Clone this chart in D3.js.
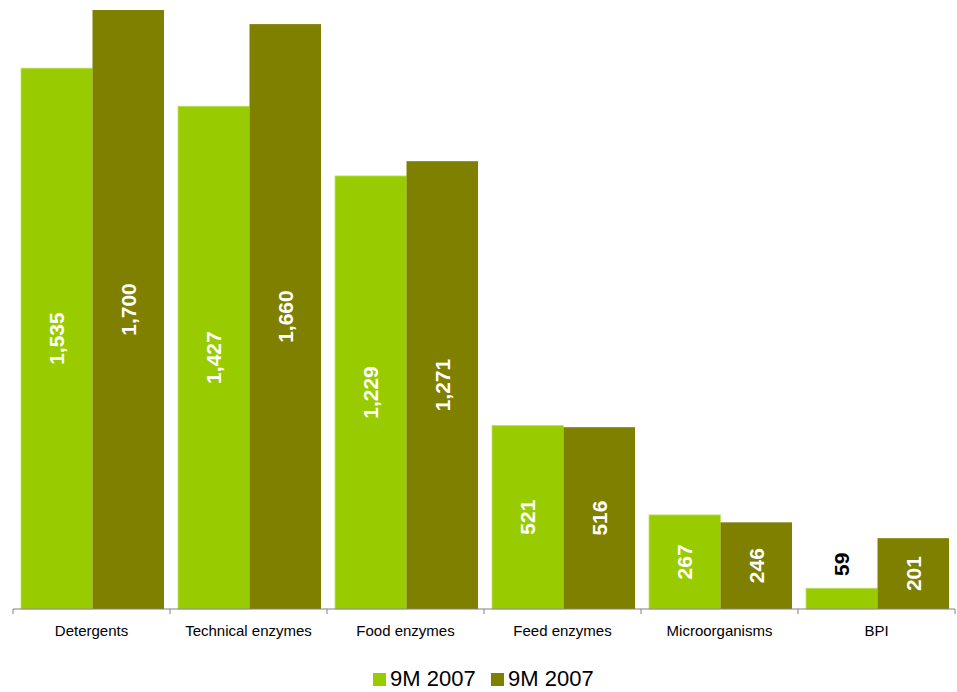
<!DOCTYPE html>
<html>
<head>
<meta charset="utf-8">
<script src="https://cdn.jsdelivr.net/npm/d3@7"></script>
<style>
  body { margin: 0; background: #fff; }
  svg { display: block; font-family: "Liberation Sans", Arial, sans-serif; }
</style>
</head>
<body>
<div id="chart"></div>
<script>
// Data
const categories = ["Detergents", "Technical enzymes", "Food enzymes", "Feed enzymes", "Microorganisms", "BPI"];
const seriesNames = ["9M 2007", "9M 2007"];
const seriesA = [1535, 1427, 1229, 521, 267, 59];
const seriesB = [1700, 1660, 1271, 516, 246, 201];
const colors = ["#99cc00", "#808000"];

const width = 957, height = 692;
const margin = { top: 10, right: 2, bottom: 83, left: 13 };

const svg = d3.select("#chart").append("svg")
    .attr("width", width)
    .attr("height", height);

const x = d3.scaleBand()
    .domain(categories)
    .range([margin.left, width - margin.right])
    .paddingInner(0)
    .paddingOuter(0);

const sub = d3.scaleBand()
    .domain([0, 1])
    .range([8, x.bandwidth() - 6]);

const y = d3.scaleLinear()
    .domain([0, 1700])
    .range([height - margin.bottom, margin.top]);

const rows = categories.map((c, i) => ({ cat: c, vals: [seriesA[i], seriesB[i]] }));

// Bars
const groups = svg.append("g").selectAll("g")
    .data(rows)
    .join("g")
    .attr("transform", d => `translate(${x(d.cat)},0)`);

groups.selectAll("rect")
    .data(d => d.vals.map((v, k) => ({ v, k })))
    .join("rect")
    .attr("x", d => sub(d.k))
    .attr("y", d => y(d.v))
    .attr("width", sub.bandwidth())
    .attr("height", d => y(0) - y(d.v))
    .attr("fill", d => colors[d.k])
    .attr("stroke", d => d.k === 0 ? "#c2e066" : "none")
    .attr("stroke-width", 0.8);

// Value labels (rotated)
const labelSize = 21;
groups.selectAll("text.val")
    .data(d => d.vals.map((v, k) => ({ v, k })))
    .join("text")
    .attr("class", "val")
    .attr("transform", d => {
        const cx = sub(d.k) + sub.bandwidth() / 2;
        const h = y(0) - y(d.v);
        const inside = h > 40;
        const cy = inside ? (y(d.v) + y(0)) / 2 : y(d.v) - 24;
        return `translate(${cx + labelSize * 0.36},${cy}) rotate(-90)`;
    })
    .attr("text-anchor", "middle")
    .attr("font-size", labelSize)
    .attr("font-weight", "bold")
    .attr("fill", d => (y(0) - y(d.v)) > 40 ? "#fff" : "#000")
    .text(d => d3.format(",")(d.v));

// Axis
const axis = svg.append("g");
axis.append("line")
    .attr("x1", margin.left).attr("x2", width - margin.right)
    .attr("y1", y(0)).attr("y2", y(0))
    .attr("stroke", "#808080");
const ticks = categories.map(c => x(c)).concat([x.range()[1]]);
axis.selectAll("line.tick")
    .data(ticks)
    .join("line")
    .attr("class", "tick")
    .attr("x1", d => d).attr("x2", d => d)
    .attr("y1", y(0)).attr("y2", y(0) + 5)
    .attr("stroke", "#808080");
axis.selectAll("text")
    .data(categories)
    .join("text")
    .attr("x", d => x(d) + x.bandwidth() / 2)
    .attr("y", y(0) + 27)
    .attr("text-anchor", "middle")
    .attr("font-size", 15)
    .attr("fill", "#000")
    .text(d => d);

// Legend
const legend = svg.append("g").attr("transform", "translate(373,673)");
const items = legend.selectAll("g")
    .data(seriesNames)
    .join("g")
    .attr("transform", (d, i) => `translate(${i * 118},0)`);
items.append("rect")
    .attr("width", 13).attr("height", 13)
    .attr("fill", (d, i) => colors[i]);
items.append("text")
    .attr("x", 17).attr("y", 13)
    .attr("font-size", 22)
    .attr("fill", "#000")
    .text(d => d);
</script>
</body>
</html>
